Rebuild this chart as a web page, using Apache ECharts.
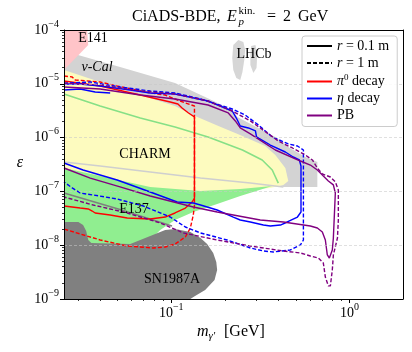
<!DOCTYPE html>
<html>
<head>
<meta charset="utf-8">
<script src="https://cdn.jsdelivr.net/npm/echarts@6.0.0/dist/echarts.min.js"></script>
<style>
html, body { margin: 0; padding: 0; background: #fff; }
#chart { width: 412px; height: 352px; }
</style>
</head>
<body>
<div id="chart"></div>
<script>
const FONT = '"Liberation Serif", "DejaVu Serif", serif'

// axis ticks
const xMajorTicks = [0.1, 1]
const xMinorTicks = [0.03, 0.04, 0.05, 0.06, 0.07, 0.08, 0.09, 0.2, 0.3, 0.4, 0.5, 0.6, 0.7, 0.8, 0.9]
const yMajorTicks = [1e-9, 1e-8, 1e-7, 1e-6, 1e-5, 1e-4]
const yMinorTicks = []
yMajorTicks.slice(0, 5).forEach(d => { for (let k = 2; k <= 9; k++) yMinorTicks.push(k * d) })

// excluded regions, [m (GeV), eps]
const nuCalRegion = [[0.025, 4.07e-5], [0.0516, 2.05e-5], [0.105, 1.03e-5], [0.155, 5.68e-6], [0.220, 3.26e-6], [0.235, 2.42e-6], [0.384, 1.03e-6], [0.454, 6.69e-7], [0.566, 4.36e-7], [0.661, 3.52e-7], [0.661, 1.21e-7], [0.426, 1.21e-7], [0.244, 2.50e-7], [0.0762, 1.38e-6], [0.025, 5.0e-6]]
const lhcbLeft = [[0.223, 5.26e-5], [0.238, 6.52e-5], [0.254, 5.98e-5], [0.260, 4.25e-5], [0.257, 2.77e-5], [0.251, 1.66e-5], [0.244, 1.18e-5], [0.232, 1.28e-5], [0.223, 1.81e-5], [0.220, 3.02e-5]]
const lhcbRight = [[0.281, 5.04e-5], [0.297, 5.26e-5], [0.304, 3.43e-5], [0.301, 1.97e-5], [0.289, 1.59e-5], [0.278, 2.24e-5], [0.278, 3.43e-5]]
const charmRegion = [[0.025, 1.81e-5], [0.0399, 1.08e-5], [0.067, 6.19e-6], [0.105, 3.87e-6], [0.136, 2.52e-6], [0.184, 1.64e-6], [0.251, 1.07e-6], [0.337, 6.98e-7], [0.384, 4.75e-7], [0.437, 2.72e-7], [0.454, 1.56e-7], [0.426, 1.32e-7], [0.360, 1.16e-7], [0.146, 8.57e-8], [0.025, 1.63e-7]]
const e137Region = [[0.025, 2.72e-7], [0.0399, 1.93e-7], [0.0762, 1.21e-7], [0.146, 1.02e-7], [0.244, 1.11e-7], [0.369, 1.26e-7], [0.244, 8.21e-8], [0.181, 5.83e-8], [0.133, 4.14e-8], [0.105, 2.94e-8], [0.0867, 1.92e-8], [0.0762, 1.25e-8], [0.0589, 1.01e-8], [0.025, 1.01e-8]]
const e141Region = [[0.025, 1e-4], [0.0337, 1e-4], [0.0342, 5.26e-5], [0.025, 1.81e-5]]
const sn1987aRegion = [[0.025, 2.70e-8], [0.0301, 2.70e-8], [0.032, 2.37e-8], [0.0333, 1.84e-8], [0.0342, 1.25e-8], [0.0356, 1.10e-8], [0.0589, 1.05e-8], [0.0762, 1.48e-8], [0.0925, 1.92e-8], [0.105, 2.00e-8], [0.128, 1.76e-8], [0.146, 1.36e-8], [0.159, 1.05e-8], [0.172, 7.17e-9], [0.179, 4.88e-9], [0.181, 3.46e-9], [0.175, 2.25e-9], [0.155, 1.47e-9], [0.136, 1.14e-9], [0.128, 1e-9], [0.025, 1e-9]]

// boundary lines
const charmEdgeLine = [[0.025, 3.52e-7], [0.0399, 2.97e-7], [0.0762, 2.29e-7], [0.146, 1.77e-7], [0.278, 1.43e-7], [0.426, 1.21e-7]]
const charmInnerLine = [[0.025, 6.46e-6], [0.0399, 3.87e-6], [0.067, 2.31e-6], [0.105, 1.57e-6], [0.161, 1.03e-6], [0.251, 5.88e-7], [0.324, 3.84e-7], [0.369, 2.50e-7], [0.399, 1.43e-7]]
const e137EdgeLine = [[0.025, 9.33e-8], [0.0504, 4.71e-8], [0.101, 2.27e-8]]

// CiADS-BDE sensitivity contours
const pi0Short = [[0.025, 1.13e-5], [0.0399, 9.10e-6], [0.067, 6.19e-6], [0.0987, 4.59e-6], [0.109, 4.21e-6], [0.115, 3.55e-6], [0.125, 2.87e-6], [0.135, 2.42e-6], [0.135, 7.53e-8], [0.131, 6.35e-8], [0.120, 4.91e-8], [0.105, 3.97e-8], [0.0925, 3.34e-8], [0.0762, 3.07e-8], [0.0566, 3.20e-8], [0.0454, 3.64e-8], [0.0374, 3.97e-8], [0.036, 4.32e-8], [0.0342, 4.71e-8], [0.0308, 4.91e-8], [0.025, 5.35e-8]]
const pi0Long = [[0.025, 1.40e-5], [0.0278, 1.34e-5], [0.0289, 1.18e-5], [0.0399, 1.08e-5], [0.0497, 9.10e-6], [0.0762, 6.75e-6], [0.0925, 6.19e-6], [0.105, 5.22e-6], [0.120, 4.40e-6], [0.135, 3.87e-6], [0.135, 5.58e-8], [0.133, 3.64e-8], [0.128, 2.09e-8], [0.120, 1.42e-8], [0.105, 1.05e-8], [0.0925, 9.26e-9], [0.0793, 8.88e-9], [0.0566, 9.66e-9], [0.0399, 1.25e-8], [0.025, 2.00e-8]]
const etaShort = [[0.025, 9.91e-6], [0.0308, 9.91e-6], [0.0399, 9.10e-6], [0.0589, 7.67e-6], [0.0762, 6.75e-6], [0.105, 6.46e-6], [0.161, 4.79e-6], [0.220, 3.12e-6], [0.232, 2.31e-6], [0.244, 1.64e-6], [0.271, 1.51e-6], [0.297, 1.33e-6], [0.301, 1.03e-6], [0.360, 7.28e-7], [0.437, 5.40e-7], [0.484, 4.36e-7], [0.524, 3.84e-7], [0.535, 2.97e-7], [0.535, 4.14e-8], [0.511, 3.34e-8], [0.448, 2.70e-8], [0.410, 2.37e-8], [0.360, 2.27e-8], [0.329, 2.37e-8], [0.278, 2.70e-8], [0.244, 2.94e-8], [0.223, 3.34e-8], [0.181, 4.51e-8], [0.146, 5.58e-8], [0.133, 6.08e-8], [0.108, 6.35e-8], [0.0762, 9.75e-8], [0.0497, 1.63e-7], [0.032, 2.50e-7], [0.025, 3.37e-7]]
const etaShortIsland = [[0.025, 7.67e-6], [0.0308, 8.00e-6], [0.0374, 7.04e-6], [0.0454, 6.75e-6]]
const etaLong = [[0.025, 1.03e-5], [0.0351, 1.08e-5], [0.0516, 8.72e-6], [0.0762, 7.35e-6], [0.105, 6.75e-6], [0.146, 5.22e-6], [0.220, 3.40e-6], [0.260, 2.63e-6], [0.308, 1.72e-6], [0.369, 1.03e-6], [0.454, 7.61e-7], [0.511, 6.98e-7], [0.552, 5.88e-7], [0.552, 1.25e-8], [0.531, 1.01e-8], [0.466, 8.15e-9], [0.374, 7.48e-9], [0.329, 7.80e-9], [0.278, 8.88e-9], [0.206, 1.25e-8], [0.146, 1.69e-8], [0.120, 2.18e-8], [0.0987, 3.34e-8], [0.0697, 5.35e-8], [0.0497, 7.22e-8], [0.0365, 8.57e-8], [0.0308, 9.33e-8], [0.0278, 1.16e-7], [0.025, 1.50e-7]]
const pbShort = [[0.025, 8.72e-6], [0.0399, 8.00e-6], [0.067, 6.19e-6], [0.105, 5.22e-6], [0.161, 4.04e-6], [0.209, 2.87e-6], [0.229, 2.04e-6], [0.244, 1.51e-6], [0.278, 1.17e-6], [0.384, 5.88e-7], [0.531, 3.67e-7], [0.604, 3.09e-7], [0.661, 2.50e-7], [0.714, 1.93e-7], [0.762, 1.56e-7], [0.813, 1.32e-7], [0.834, 9.33e-8], [0.813, 1.36e-8], [0.802, 8.15e-9], [0.772, 5.78e-9], [0.752, 6.58e-9], [0.733, 1.25e-8], [0.705, 1.76e-8], [0.661, 2.09e-8], [0.604, 2.27e-8], [0.426, 2.70e-8], [0.316, 2.94e-8], [0.181, 4.14e-8], [0.133, 5.13e-8], [0.0762, 8.21e-8], [0.0516, 1.21e-7], [0.0351, 1.77e-7], [0.025, 2.72e-7]]
const pbLong = [[0.025, 1.03e-5], [0.0399, 9.50e-6], [0.067, 7.35e-6], [0.105, 6.46e-6], [0.161, 4.79e-6], [0.220, 3.12e-6], [0.278, 2.04e-6], [0.399, 8.64e-7], [0.479, 6.41e-7], [0.566, 4.75e-7], [0.620, 3.84e-7], [0.661, 2.72e-7], [0.705, 2.11e-7], [0.782, 1.85e-7], [0.834, 1.50e-7], [0.867, 1.06e-7], [0.867, 2.94e-8], [0.857, 1.36e-8], [0.813, 6.58e-9], [0.802, 3.46e-9], [0.782, 1.75e-9], [0.762, 1.75e-9], [0.733, 2.56e-9], [0.714, 4.67e-9], [0.670, 5.78e-9], [0.604, 6.30e-9], [0.531, 7.17e-9], [0.426, 7.80e-9], [0.278, 9.66e-9], [0.181, 1.25e-8], [0.117, 1.69e-8], [0.0867, 2.59e-8], [0.0566, 3.97e-8], [0.0365, 5.58e-8], [0.025, 7.87e-8]]

const legendNames = ['r = 0.1 m', 'r = 1 m', 'π0 decay', 'η decay', 'PB']
const legendLabels = {
  'r = 0.1 m': '{i|r} = 0.1 m',
  'r = 1 m': '{i|r} = 1 m',
  'π0 decay': '{i|π}{s|0} decay',
  'η decay': '{i|η} decay',
  'PB': 'PB'
}

const X_MIN = 0.025
const X_MAX = 2
const Y_MIN = 1e-9
const Y_MAX = 1e-4

const tickRich = {
  a: { fontFamily: FONT, fontSize: 14, color: '#000' },
  b: { fontFamily: FONT, fontSize: 10, color: '#000', padding: [0, 0, 12, 0] }
}
function powLabel (v) {
  const e = Math.round(Math.log10(v))
  return '{a|10}{b|' + (e < 0 ? '\u2212' + (-e) : e) + '}'
}

function region (name, points, color, z) {
  return {
    name: name,
    type: 'custom',
    z: z,
    silent: true,
    clip: true,
    data: points,
    renderItem (params, api) {
      if (params.dataIndex !== 0) return null
      return {
        type: 'polygon',
        shape: { points: points.map(p => api.coord(p)) },
        style: { fill: color }
      }
    }
  }
}

function curve (name, points, color, dashed, width, z) {
  return {
    name: name,
    type: 'line',
    data: points,
    z: z || 3,
    silent: true,
    symbol: 'none',
    showSymbol: false,
    clip: true,
    itemStyle: { color: color },
    lineStyle: { color: color, width: width || 1.4, type: dashed ? [4, 2] : 'solid' }
  }
}

function mainAxis (min, max, position, ticks, labelMargin) {
  return {
    type: 'log',
    logBase: 10,
    min: min,
    max: max,
    position: position,
    z: 10,
    axisLine: { show: true, onZero: false, lineStyle: { color: '#000', width: 1 } },
    axisTick: { show: true, length: 4, customValues: ticks, lineStyle: { color: '#000', width: 1 } },
    axisLabel: { customValues: ticks, margin: labelMargin, formatter: powLabel, rich: tickRich },
    splitLine: {
      show: true,
      showMinLine: false,
      showMaxLine: false,
      lineStyle: { color: 'rgba(200,200,200,0.7)', type: [3, 2], width: 0.8 }
    }
  }
}
function minorAxis (min, max, position, ticks) {
  return {
    type: 'log',
    logBase: 10,
    min: min,
    max: max,
    position: position,
    z: 10,
    axisLine: { show: false, onZero: false },
    axisTick: { show: true, length: 2, customValues: ticks, lineStyle: { color: '#000', width: 0.8 } },
    axisLabel: { show: false },
    splitLine: { show: false }
  }
}
function borderAxis (min, max, position) {
  return {
    type: 'log',
    logBase: 10,
    min: min,
    max: max,
    position: position,
    z: 10,
    axisLine: { show: true, onZero: false, lineStyle: { color: '#000', width: 1 } },
    axisTick: { show: false },
    axisLabel: { show: false },
    splitLine: { show: false }
  }
}

function txt (text, x, y, font, align) {
  return {
    type: 'text',
    z: 30,
    x: x,
    y: y,
    silent: true,
    style: { text: text, font: font, fill: '#000', align: align || 'left', verticalAlign: 'middle' }
  }
}

const chart = echarts.init(document.getElementById('chart'))
chart.setOption({
  animation: false,
  backgroundColor: '#fff',
  grid: { left: 64, top: 30, right: 9, bottom: 53, outerBoundsMode: 'none' },
  xAxis: [
    mainAxis(X_MIN, X_MAX, 'bottom', xMajorTicks, 3),
    minorAxis(X_MIN, X_MAX, 'bottom', xMinorTicks),
    borderAxis(X_MIN, X_MAX, 'top')
  ],
  yAxis: [
    mainAxis(Y_MIN, Y_MAX, 'left', yMajorTicks, 5),
    minorAxis(Y_MIN, Y_MAX, 'left', yMinorTicks),
    borderAxis(Y_MIN, Y_MAX, 'right')
  ],
  legend: {
    data: legendNames,
    orient: 'vertical',
    left: 302,
    top: 36,
    z: 20,
    itemWidth: 25,
    itemHeight: 12,
    itemGap: 3,
    padding: [3, 8, 4, 4],
    backgroundColor: 'rgba(255,255,255,0.85)',
    borderColor: '#cccccc',
    borderWidth: 1,
    borderRadius: 3,
    selectedMode: false,
    itemStyle: { color: 'rgba(0,0,0,0)', opacity: 0, borderWidth: 0 },
    formatter: n => legendLabels[n],
    textStyle: {
      fontFamily: FONT,
      fontSize: 14,
      color: '#000',
      rich: {
        i: { fontFamily: FONT, fontSize: 14, fontStyle: 'italic', color: '#000' },
        s: { fontFamily: FONT, fontSize: 9, color: '#000', padding: [0, 0, 8, 0] }
      }
    }
  },
  graphic: [
    txt('CiADS-BDE,', 132, 17, '16px ' + FONT),
    txt('E', 227, 17, 'italic 16px ' + FONT),
    txt('kin.', 238.5, 11, '11px ' + FONT),
    txt('p', 238.5, 22, 'italic 11px ' + FONT),
    txt('=', 267, 17, '16px ' + FONT),
    txt('2', 283, 17, '16px ' + FONT),
    txt('GeV', 298, 17, '16px ' + FONT),
    txt('m', 197, 332, 'italic 16px ' + FONT),
    txt('\u03b3\u2032', 208.5, 336, 'italic 11px ' + FONT),
    txt('[GeV]', 224, 332, '16px ' + FONT),
    txt('\u03b5', 20, 163, 'italic 16px ' + FONT, 'center'),
    txt('E141', 93, 38, '14px ' + FONT, 'center'),
    txt('\u03bd-Cal', 97, 67, 'italic 14px ' + FONT, 'center'),
    txt('LHCb', 254, 54, '14px ' + FONT, 'center'),
    txt('CHARM', 145, 154, '14px ' + FONT, 'center'),
    txt('E137', 134, 209, '14px ' + FONT, 'center'),
    txt('SN1987A', 172, 279, '14px ' + FONT, 'center')
  ],
  series: [
    region('nu-Cal', nuCalRegion, '#d3d3d3', 1),
    region('LHCb a', lhcbLeft, '#d6d6d6', 1),
    region('LHCb b', lhcbRight, '#d6d6d6', 1),
    region('CHARM', charmRegion, '#fdfbbf', 1),
    region('E137', e137Region, '#90ee90', 1),
    region('E141', e141Region, '#ffc4c8', 1),
    region('SN1987A', sn1987aRegion, '#808080', 1),
    curve('CHARM edge', charmEdgeLine, '#cfcfcf', false, 1.6, 2),
    curve('CHARM inner', charmInnerLine, '#86e086', false, 1.6, 2),
    curve('E137 edge', e137EdgeLine, '#7f7f7f', false, 1.6, 2),
    curve('r = 0.1 m', [], '#000', false),
    curve('r = 1 m', [], '#000', true),
    curve('pi0 long', pi0Long, '#ff0000', true),
    curve('π0 decay', pi0Short, '#ff0000', false),
    curve('eta long', etaLong, '#0000ff', true),
    curve('η decay', etaShort, '#0000ff', false),
    curve('eta island', etaShortIsland, '#0000ff', false),
    curve('PB long', pbLong, '#800080', true),
    curve('PB', pbShort, '#800080', false)
  ]
})
</script>
</body>
</html>
